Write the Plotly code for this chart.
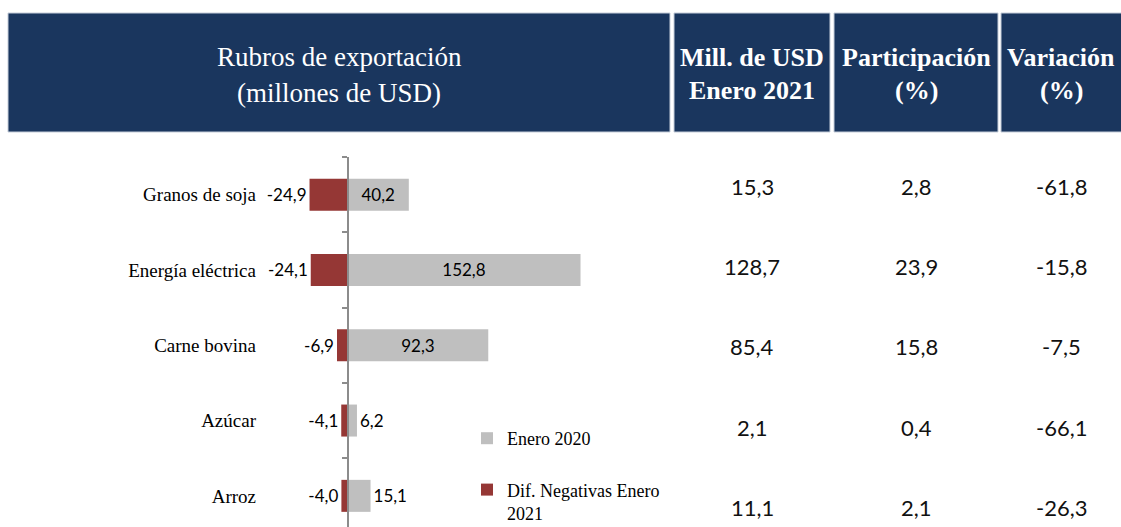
import plotly.graph_objects as go

# ---------------- data ----------------
categories = ["Granos de soja", "Energía eléctrica", "Carne bovina", "Azúcar", "Arroz"]
enero_2020 = [40.2, 152.8, 92.3, 6.2, 15.1]
dif_negativas_2021 = [-24.9, -24.1, -6.9, -4.1, -4.0]
mill_usd_2021 = [15.3, 128.7, 85.4, 2.1, 11.1]
participacion = [2.8, 23.9, 15.8, 0.4, 2.1]
variacion = [-61.8, -15.8, -7.5, -66.1, -26.3]

header_cells = [
    ["Rubros de exportación", "(millones de USD)"],
    ["Mill. de USD", "Enero 2021"],
    ["Participación", "(%)"],
    ["Variación", "(%)"],
]

# ---------------- style ----------------
W, H = 1121, 527
NAVY = "#1a365e"
GREY = "#bfbfbf"
RED = "#953735"
AXIS = "#8c8c8c"
SERIF = "Liberation Serif, Times New Roman, serif"
SANS = "Lato, Open Sans, sans-serif"


def fmt(v):
    return f"{v:.1f}".replace(".", ",")


def px_x(p):
    return p / W


def px_y(p):
    return 1 - p / H


# plot geometry (pixels)
plot_left, plot_right = 265, 660
zero_px = 347.5
scale = 1.525  # px per unit
plot_top = 157
cat_px = 75.3
x_range = [-(zero_px - plot_left) / scale, (plot_right - zero_px) / scale]
y_span = (H - plot_top) / cat_px
y_range = [-0.5 + y_span, -0.5]
ypos = list(range(len(categories)))

fig = go.Figure()

fig.add_trace(go.Bar(
    y=ypos, x=enero_2020, orientation="h", name="Enero 2020",
    marker=dict(color=GREY, line=dict(width=0)), width=0.425,
    text=[fmt(v) for v in enero_2020],
    textposition=["inside", "inside", "inside", "outside", "outside"],
    insidetextanchor="middle", constraintext="none",
    textfont=dict(family=SANS, size=17, color="#000000"),
    legendgroup="a", cliponaxis=False, yaxis="y2",
))
fig.add_trace(go.Bar(
    y=ypos, x=dif_negativas_2021, orientation="h",
    name="Dif. Negativas Enero<br>2021",
    marker=dict(color=RED, line=dict(width=0)), width=0.425,
    text=[fmt(v) for v in dif_negativas_2021],
    textposition="outside", constraintext="none",
    textfont=dict(family=SANS, size=17, color="#000000"),
    legendgroup="b", cliponaxis=False,
))

# header boxes
cell_bounds = [(8, 670), (674, 830), (834, 998), (1001, 1125)]
shapes = []
for (a, b) in cell_bounds:
    shapes.append(dict(type="rect", xref="paper", yref="paper",
                       x0=px_x(a), x1=px_x(b), y0=px_y(132), y1=px_y(13),
                       fillcolor=NAVY, line=dict(color="#c5cdd9", width=1),
                       layer="below"))

annotations = []
line_y = [[57, 93], [57, 90], [57, 90], [57, 90]]
for i, ((a, b), lines) in enumerate(zip(cell_bounds, header_cells)):
    cx = (a + min(b, W)) / 2 if i < 3 else 1061
    for j, t in enumerate(lines):
        bold = i > 0
        annotations.append(dict(
            xref="paper", yref="paper", x=px_x(cx), y=px_y(line_y[i][j]),
            text=f"<b>{t}</b>" if bold else t, showarrow=False,
            xanchor="center", yanchor="middle",
            font=dict(family=SERIF, size=26 if bold else 27, color="#ffffff"),
        ))

# table values
col_x = [752, 916, 1061]
row_y = [186, 266, 346, 427, 507]
for cx, col in zip(col_x, [mill_usd_2021, participacion, variacion]):
    for ry, v in zip(row_y, col):
        annotations.append(dict(
            xref="paper", yref="paper", x=px_x(cx), y=px_y(ry),
            text=fmt(v), showarrow=False, xanchor="center", yanchor="middle",
            font=dict(family=SANS, size=22, color="#111111"),
        ))

fig.update_layout(
    width=W, height=H,
    margin=dict(l=0, r=0, t=0, b=0, autoexpand=False),
    paper_bgcolor="#ffffff", plot_bgcolor="#ffffff",
    barmode="overlay",
    showlegend=True,
    legend=dict(
        x=px_x(467), y=px_y(420), xanchor="left", yanchor="top",
        font=dict(family=SERIF, size=18, color="#000000"),
        tracegroupgap=25, valign="top", itemwidth=30,
        bgcolor="rgba(0,0,0,0)", traceorder="grouped",
    ),
    xaxis=dict(domain=[px_x(plot_left), px_x(plot_right)], range=x_range,
               showticklabels=False, showgrid=False, zeroline=False,
               showline=False, ticks=""),
    yaxis=dict(domain=[0, px_y(plot_top)], range=y_range,
               tickvals=ypos, ticktext=categories, ticks="",
               showgrid=False, zeroline=False, showline=False,
               ticklabelstandoff=8,
               tickfont=dict(family=SERIF, size=19, color="#000000")),
    yaxis2=dict(overlaying="y", anchor="free", position=px_x(zero_px),
                side="left", range=y_range,
                tickvals=[k - 0.5 for k in range(len(categories) + 1)],
                ticks="outside", ticklen=5, tickwidth=1.5, tickcolor=AXIS,
                showline=True, linecolor=AXIS, linewidth=2,
                showticklabels=False, showgrid=False, zeroline=False),
    shapes=shapes,
    annotations=annotations,
)

fig.write_html(
    "out.html",
    config={"displayModeBar": False},
    post_script="document.body.style.margin='0';document.body.style.overflow='hidden';",
)
